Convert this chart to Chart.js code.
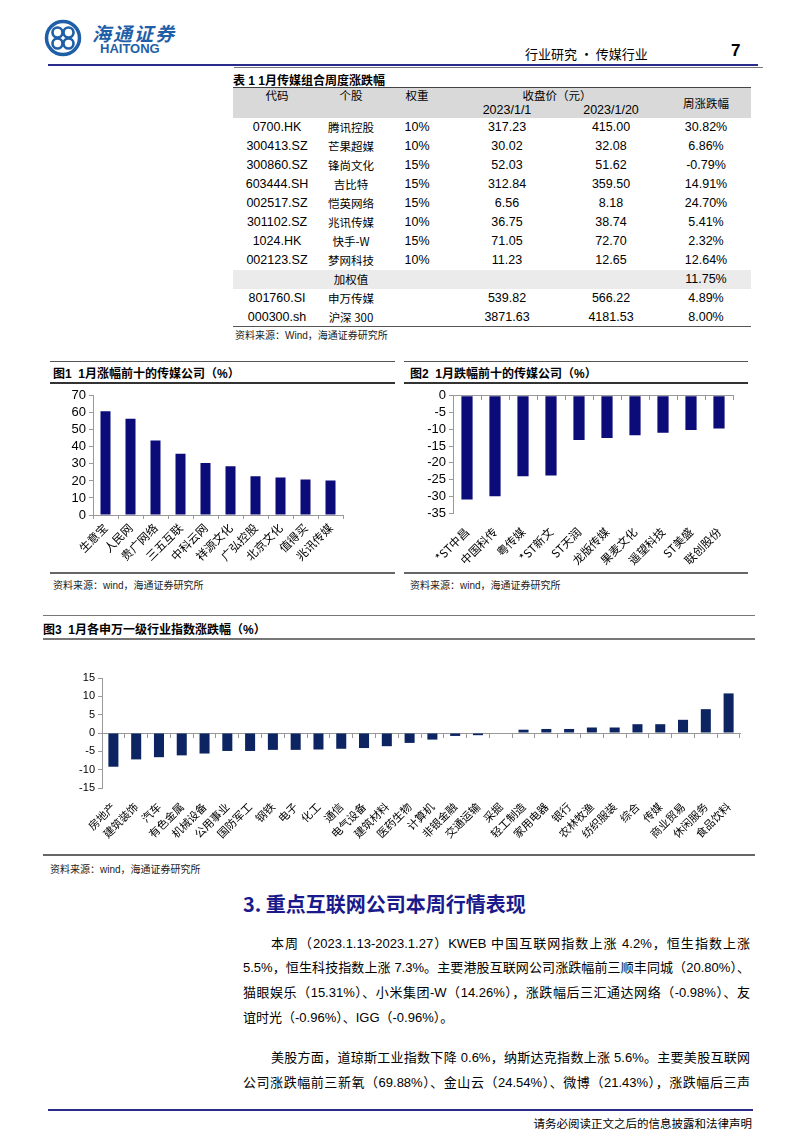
<!DOCTYPE html>
<html>
<head>
<meta charset="utf-8">
<script src="https://cdn.jsdelivr.net/npm/chart.js@4.4.0/dist/chart.umd.min.js"></script>
<style>
  html, body { margin: 0; padding: 0; background: #fff; }
  body { width: 802px; height: 1133px; position: relative; overflow: hidden;
         font-family: "Liberation Sans", "Noto Sans CJK SC", sans-serif; color: #000; }
  .abs { position: absolute; }
  .hline { position: absolute; height: 0; }
  .ftitle { position: absolute; font-size: 12px; font-weight: bold; white-space: nowrap; }
  .src { position: absolute; font-size: 10px; color: #222; white-space: nowrap; }
  table.t { position: absolute; left: 233px; top: 88px; width: 518px; border-collapse: collapse;
            font-size: 12.5px; table-layout: fixed; }
  table.t td { text-align: center; padding: 0; height: 19px; line-height: 19px; white-space: nowrap; }
  table.t tr.hd td { background: #d9d9d9; height: 15px; line-height: 15px; }
  table.t tr.gr td { background: #ebebeb; }
  .cn { font-family: "Noto Sans CJK SC", sans-serif; font-size: 11.5px; }
  .para div { position: absolute; left: 243px; width: 507px; font-size: 13px; white-space: nowrap;
              text-align: justify; text-align-last: justify; }
</style>
</head>
<body>

<!-- en-tête -->
<svg class="abs" style="left:44px;top:19px" width="38" height="38" viewBox="0 0 38 38">
  <circle cx="19" cy="19" r="16.5" fill="none" stroke="#1f5fa8" stroke-width="3.5"/>
  <circle cx="13.5" cy="13.5" r="5" fill="none" stroke="#1f5fa8" stroke-width="2.6"/>
  <circle cx="24.5" cy="13.5" r="5" fill="none" stroke="#1f5fa8" stroke-width="2.6"/>
  <circle cx="13.5" cy="24.5" r="5" fill="none" stroke="#1f5fa8" stroke-width="2.6"/>
  <circle cx="24.5" cy="24.5" r="5" fill="none" stroke="#1f5fa8" stroke-width="2.6"/>
</svg>
<div class="abs" style="left:92px;top:19px;font-size:19px;font-style:italic;font-weight:bold;color:#1f5fa8;font-family:'Noto Sans CJK SC';letter-spacing:2px">海通证券</div>
<div class="abs" style="left:100px;top:41px;font-size:13px;font-weight:bold;color:#1f5fa8">HAITONG</div>
<div class="abs" style="left:525px;top:44px;font-size:13px;font-family:'Noto Sans CJK SC'">行业研究 · 传媒行业</div>
<div class="abs" style="left:731px;top:41px;font-size:17px;font-weight:bold">7</div>
<div class="hline" style="left:48px;top:64px;width:710px;border-top:2px solid #2b2b8c"></div>
<div class="hline" style="left:234px;top:67px;width:529px;border-top:1px solid #777"></div>

<!-- tableau 1 -->
<div class="ftitle" style="left:233px;top:71px">表 1 1月传媒组合周度涨跌幅</div>
<div class="hline" style="left:233px;top:87px;width:518px;border-top:1px solid #444"></div>
<table class="t" id="tbl">
  <colgroup><col style="width:88px"><col style="width:60px"><col style="width:72px"><col style="width:108px"><col style="width:100px"><col style="width:90px"></colgroup>
</table>
<div class="hline" style="left:233px;top:326px;width:518px;border-top:1px solid #555"></div>
<div class="src" style="left:235px;top:327px">资料来源：Wind，海通证券研究所</div>

<!-- figure 1 -->
<div class="hline" style="left:50px;top:361px;width:345px;border-top:1px solid #555"></div>
<div class="ftitle" style="left:53px;top:364px">图1&nbsp;&nbsp;1月涨幅前十的传媒公司（%）</div>
<div class="hline" style="left:50px;top:382px;width:345px;border-top:2px solid #333"></div>
<div class="abs" style="left:48px;top:385px;width:347px;height:187px"><canvas id="fig1"></canvas></div>
<div class="hline" style="left:50px;top:572px;width:345px;border-top:2px solid #666"></div>
<div class="src" style="left:53px;top:577px">资料来源：wind，海通证券研究所</div>

<!-- figure 2 -->
<div class="hline" style="left:404px;top:361px;width:344px;border-top:1px solid #555"></div>
<div class="ftitle" style="left:410px;top:364px">图2&nbsp;&nbsp;1月跌幅前十的传媒公司（%）</div>
<div class="hline" style="left:404px;top:382px;width:344px;border-top:2px solid #333"></div>
<div class="abs" style="left:405px;top:385px;width:345px;height:187px"><canvas id="fig2"></canvas></div>
<div class="hline" style="left:404px;top:572px;width:344px;border-top:2px solid #666"></div>
<div class="src" style="left:410px;top:577px">资料来源：wind，海通证券研究所</div>

<!-- figure 3 -->
<div class="hline" style="left:43px;top:615px;width:712px;border-top:1px solid #777"></div>
<div class="ftitle" style="left:43px;top:620px">图3&nbsp;&nbsp;1月各申万一级行业指数涨跌幅（%）</div>
<div class="hline" style="left:43px;top:638px;width:712px;border-top:2px solid #777"></div>
<div class="abs" style="left:43px;top:645px;width:712px;height:208px"><canvas id="fig3"></canvas></div>
<div class="hline" style="left:43px;top:854px;width:712px;border-top:2px solid #666"></div>
<div class="src" style="left:50px;top:861px">资料来源：wind，海通证券研究所</div>

<!-- texte -->
<div class="abs" style="left:243px;top:889px;font-size:20px;font-weight:bold;color:#1a1a8c;font-family:'Noto Sans CJK SC'">3.&nbsp;重点互联网公司本周行情表现</div>
<div class="para">
  <div style="top:933px;left:271px;width:479px">本周（2023.1.13-2023.1.27）KWEB 中国互联网指数上涨 4.2%，恒生指数上涨</div>
  <div style="top:957px">5.5%，恒生科技指数上涨 7.3%。主要港股互联网公司涨跌幅前三顺丰同城（20.80%）、</div>
  <div style="top:982px">猫眼娱乐（15.31%）、小米集团-W（14.26%），涨跌幅后三汇通达网络（-0.98%）、友</div>
  <div style="top:1007px;text-align-last:left">谊时光（-0.96%）、IGG（-0.96%）。</div>
  <div style="top:1047px;left:271px;width:479px">美股方面，道琼斯工业指数下降 0.6%，纳斯达克指数上涨 5.6%。主要美股互联网</div>
  <div style="top:1072px">公司涨跌幅前三新氧（69.88%）、金山云（24.54%）、微博（21.43%），涨跌幅后三声</div>
</div>
<div class="hline" style="left:48px;top:1109px;width:705px;border-top:2px solid #2b2b8c"></div>
<div class="abs" style="left:500px;top:1115px;width:252px;text-align:right;font-size:11.5px;white-space:nowrap;font-family:'Noto Sans CJK SC'">请务必阅读正文之后的信息披露和法律声明</div>

<script>
// Tableau 1
const tblCodes = ['0700.HK', '300413.SZ', '300860.SZ', '603444.SH', '002517.SZ', '301102.SZ', '1024.HK', '002123.SZ', '', '801760.SI', '000300.sh'];
const tblNames = ['腾讯控股', '芒果超媒', '锋尚文化', '吉比特', '恺英网络', '兆讯传媒', '快手-W', '梦网科技', '加权值', '申万传媒', '沪深 300'];
const tblWeights = ['10%', '10%', '15%', '15%', '15%', '10%', '15%', '10%', '', '', ''];
const tblClose0101 = ['317.23', '30.02', '52.03', '312.84', '6.56', '36.75', '71.05', '11.23', '', '539.82', '3871.63'];
const tblClose0120 = ['415.00', '32.08', '51.62', '359.50', '8.18', '38.74', '72.70', '12.65', '', '566.22', '4181.53'];
const tblChange = ['30.82%', '6.86%', '-0.79%', '14.91%', '24.70%', '5.41%', '2.32%', '12.64%', '11.75%', '4.89%', '8.00%'];

// Figure 1
const fig1Labels = ['生意宝', '人民网', '贵广网络', '三五互联', '中科云网', '祥源文化', '广弘控股', '北京文化', '值得买', '兆讯传媒'];
const fig1Values = [61.0, 56.5, 43.8, 36.0, 30.5, 28.7, 22.8, 22.0, 20.8, 20.2];

// Figure 2
const fig2Labels = ['*ST中昌', '中国科传', '粤传媒', '*ST新文', 'ST天润', '龙版传媒', '果麦文化', '遥望科技', 'ST美盛', '联创股份'];
const fig2Values = [-31.0, -30.0, -24.0, -23.8, -13.2, -12.6, -11.8, -11.0, -10.2, -9.8];

// Figure 3
const fig3Labels = ['房地产', '建筑装饰', '汽车', '有色金属', '机械设备', '公用事业', '国防军工', '钢铁', '电子', '化工', '通信', '电气设备', '建筑材料', '医药生物', '计算机', '非银金融', '交通运输', '采掘', '轻工制造', '家用电器', '银行', '农林牧渔', '纺织服装', '综合', '传媒', '商业贸易', '休闲服务', '食品饮料'];
const fig3Values = [-9.2, -7.2, -6.6, -6.1, -5.6, -4.9, -4.9, -4.6, -4.6, -4.5, -4.3, -4.1, -3.6, -2.7, -1.8, -0.8, -0.6, 0.0, 0.9, 1.1, 1.1, 1.5, 1.5, 2.4, 2.4, 3.6, 6.5, 10.8];

// Construction du tableau
const tbl = document.getElementById('tbl');
tbl.insertAdjacentHTML('beforeend',
  '<tr class="hd"><td class="cn">代码</td><td class="cn">个股</td><td class="cn">权重</td>' +
  '<td class="cn" colspan="2">收盘价（元）</td><td class="cn" rowspan="2">周涨跌幅</td></tr>' +
  '<tr class="hd"><td></td><td></td><td></td><td>2023/1/1</td><td>2023/1/20</td></tr>');
tblCodes.forEach((code, i) => {
  const cls = tblNames[i] === '加权值' ? ' class="gr"' : '';
  tbl.insertAdjacentHTML('beforeend',
    `<tr${cls}><td>${code}</td><td class="cn">${tblNames[i]}</td><td>${tblWeights[i]}</td>` +
    `<td>${tblClose0101[i]}</td><td>${tblClose0120[i]}</td><td>${tblChange[i]}</td></tr>`);
});

// Graphiques
Chart.defaults.font.family = '"Liberation Sans", "Noto Sans CJK SC", sans-serif';
Chart.defaults.color = '#000';
Chart.defaults.animation = false;
Chart.defaults.responsive = true;
Chart.defaults.maintainAspectRatio = false;
Chart.defaults.plugins.legend.display = false;
Chart.defaults.plugins.tooltip.enabled = false;

const axisGrey = '#999';
const catFont = { family: '"Noto Sans CJK SC", sans-serif', size: 11.5 };

function yAxis(min, max, step, width, size) {
    return {
        min: min, max: max,
        ticks: { stepSize: step, font: { size: size }, padding: 3, autoSkip: false },
        grid: { drawOnChartArea: false, tickLength: 4, color: axisGrey },
        border: { color: axisGrey },
        afterFit: s => { s.width = width; }
    };
}

// Figure 1
new Chart(document.getElementById('fig1'), {
    type: 'bar',
    data: { labels: fig1Labels, datasets: [{ data: fig1Values, backgroundColor: '#0b0b7a', barPercentage: 0.8, categoryPercentage: 0.5 }] },
    options: {
        layout: { padding: { top: 6, right: 52 } },
        scales: {
            x: {
                ticks: { font: catFont, minRotation: 45, maxRotation: 45, autoSkip: false, padding: 2 },
                grid: { drawOnChartArea: false, offset: true, tickLength: 4, color: axisGrey },
                border: { color: axisGrey },
                afterFit: s => { s.height = 57; }
            },
            y: yAxis(0, 70, 10, 45, 13)
        }
    }
});

// Figure 2
new Chart(document.getElementById('fig2'), {
    type: 'bar',
    data: { labels: fig2Labels, datasets: [{ data: fig2Values, backgroundColor: '#0b0b7a', barPercentage: 0.8, categoryPercentage: 0.5 }] },
    options: {
        layout: { padding: { top: 8, right: 17 } },
        scales: {
            x: {
                ticks: { font: catFont, minRotation: 45, maxRotation: 45, autoSkip: false, padding: 4 },
                grid: { display: false },
                border: { display: false },
                afterFit: s => { s.height = 59; }
            },
            x0: {
                axis: 'x', type: 'category', position: { y: 0 },
                ticks: { display: false },
                grid: { drawOnChartArea: false, offset: true, tickLength: 4, color: axisGrey },
                border: { color: axisGrey }
            },
            y: yAxis(-35, 0, 5, 48, 13)
        }
    }
});

// Figure 3
new Chart(document.getElementById('fig3'), {
    type: 'bar',
    data: { labels: fig3Labels, datasets: [{ data: fig3Values, backgroundColor: '#0c2462', barPercentage: 0.88, categoryPercentage: 0.5 }] },
    options: {
        layout: { padding: { top: 33, right: 15 } },
        scales: {
            x: {
                ticks: { font: { family: '"Noto Sans CJK SC", sans-serif', size: 11 }, minRotation: 45, maxRotation: 45, autoSkip: false, padding: 4 },
                grid: { display: false },
                border: { display: false },
                afterFit: s => { s.height = 65; }
            },
            x0: {
                axis: 'x', type: 'category', position: { y: 0 },
                ticks: { display: false },
                grid: { drawOnChartArea: false, offset: true, tickLength: 4, color: axisGrey },
                border: { color: axisGrey }
            },
            y: yAxis(-15, 15, 5, 59, 11)
        }
    }
});
</script>
</body>
</html>
